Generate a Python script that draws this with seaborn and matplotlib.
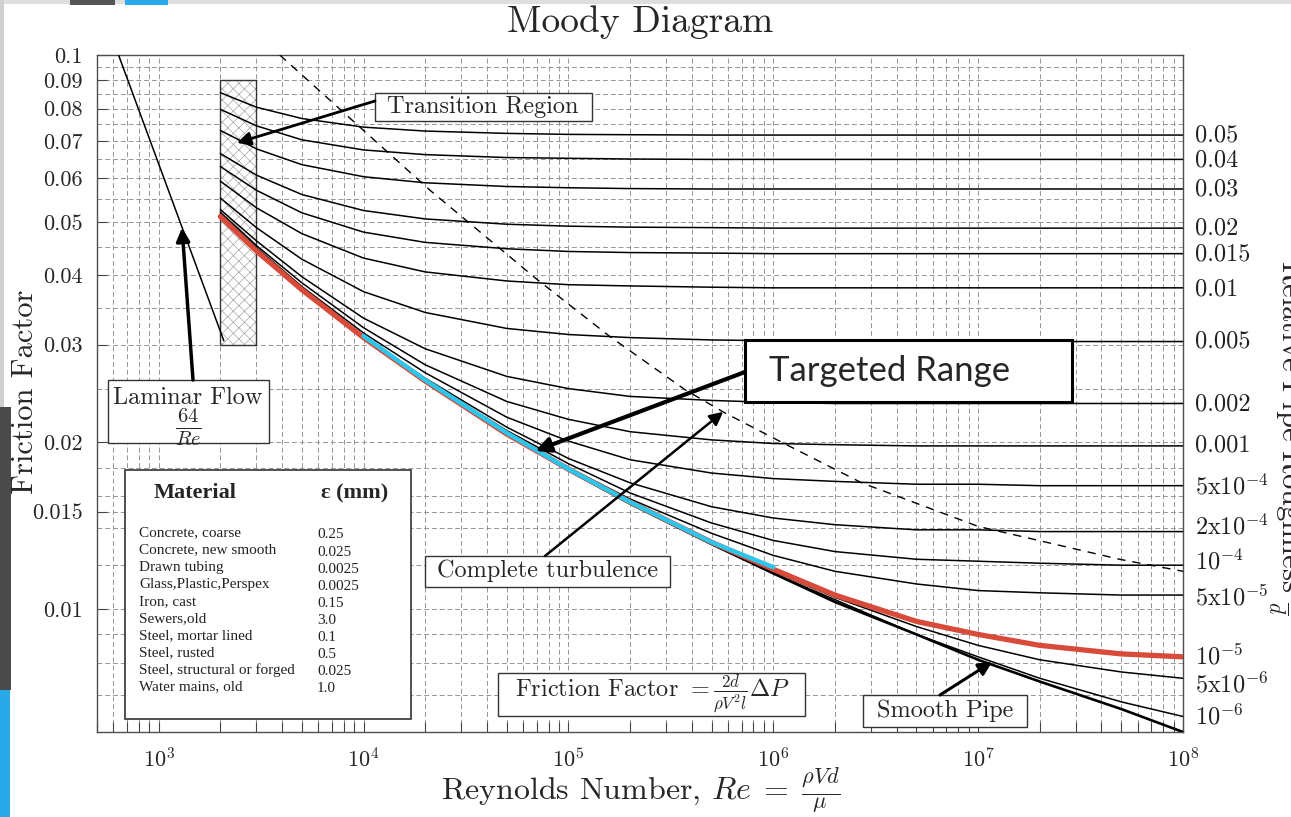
import matplotlib
matplotlib.use("Agg")
import matplotlib.pyplot as plt
import matplotlib.patches as mpatches
import matplotlib.transforms as mtransforms
from matplotlib.ticker import FixedLocator, FixedFormatter, LogLocator, NullFormatter
import seaborn as sns

re_pts = [2e3, 3e3, 5e3, 1e4, 2e4, 5e4, 1e5, 2e5, 5e5, 1e6, 2e6, 5e6, 1e7, 2e7, 5e7, 1e8]

f_050 = [0.0855, 0.0805, 0.0768, 0.0741, 0.0729, 0.0722, 0.0719, 0.0718, 0.0717, 0.0717, 0.0717, 0.0717, 0.0717, 0.0717, 0.0717, 0.0717]
f_040 = [0.0798, 0.0745, 0.0703, 0.0674, 0.0661, 0.0653, 0.0651, 0.0649, 0.0648, 0.0648, 0.0648, 0.0648, 0.0648, 0.0648, 0.0648, 0.0648]
f_030 = [0.0731, 0.0677, 0.0634, 0.0603, 0.0588, 0.0579, 0.0576, 0.0574, 0.0573, 0.0573, 0.0573, 0.0573, 0.0573, 0.0573, 0.0573, 0.0573]
f_020 = [0.0664, 0.0607, 0.0560, 0.0524, 0.0506, 0.0495, 0.0491, 0.0489, 0.0488, 0.0487, 0.0487, 0.0487, 0.0487, 0.0487, 0.0487, 0.0487]
f_015 = [0.0629, 0.0570, 0.0519, 0.0479, 0.0459, 0.0447, 0.0442, 0.0440, 0.0439, 0.0438, 0.0438, 0.0438, 0.0438, 0.0438, 0.0438, 0.0438]
f_010 = [0.0592, 0.0530, 0.0476, 0.0430, 0.0406, 0.0391, 0.0385, 0.0383, 0.0381, 0.0380, 0.0380, 0.0380, 0.0380, 0.0380, 0.0380, 0.0380]
f_005 = [0.0552, 0.0488, 0.0428, 0.0374, 0.0343, 0.0321, 0.0313, 0.0309, 0.0306, 0.0305, 0.0305, 0.0304, 0.0304, 0.0304, 0.0304, 0.0304]
f_002 = [0.0526, 0.0462, 0.0398, 0.0335, 0.0295, 0.0263, 0.0250, 0.0242, 0.0238, 0.0236, 0.0235, 0.0235, 0.0235, 0.0235, 0.0235, 0.0235]
f_001 = [0.0520, 0.0453, 0.0388, 0.0322, 0.0276, 0.0237, 0.0220, 0.0209, 0.0202, 0.0199, 0.0198, 0.0197, 0.0197, 0.0197, 0.0197, 0.0197]
f_5e4 = [0.0516, 0.0449, 0.0382, 0.0315, 0.0267, 0.0222, 0.0201, 0.0186, 0.0176, 0.0172, 0.0170, 0.0168, 0.0168, 0.0167, 0.0167, 0.0167]
f_2e4 = [0.0513, 0.0446, 0.0379, 0.0311, 0.0261, 0.0213, 0.0187, 0.0169, 0.0153, 0.0146, 0.0142, 0.0139, 0.0139, 0.0138, 0.0138, 0.0138]
f_1e4 = [0.0512, 0.0445, 0.0378, 0.0310, 0.0259, 0.0210, 0.0183, 0.0162, 0.0143, 0.0133, 0.0127, 0.0123, 0.0122, 0.0121, 0.0120, 0.0120]
f_5e5 = [0.0511, 0.0444, 0.0378, 0.0309, 0.0258, 0.0208, 0.0180, 0.0158, 0.0137, 0.0125, 0.0117, 0.0111, 0.0108, 0.0107, 0.0106, 0.0106]
f_1e5 = [0.0511, 0.0443, 0.0377, 0.0309, 0.0258, 0.0207, 0.0179, 0.0156, 0.0132, 0.0118, 0.0106, 0.0095, 0.0090, 0.0086, 0.0083, 0.0082]
f_5e6 = [0.0510, 0.0443, 0.0377, 0.0309, 0.0258, 0.0207, 0.0178, 0.0155, 0.0131, 0.0117, 0.0105, 0.0093, 0.0086, 0.0081, 0.0077, 0.0075]
f_1e6 = [0.0509, 0.0443, 0.0377, 0.0309, 0.0257, 0.0207, 0.0178, 0.0155, 0.0131, 0.0116, 0.0104, 0.0090, 0.0082, 0.0075, 0.0068, 0.0064]
f_smooth = [0.0509, 0.0443, 0.0377, 0.0309, 0.0257, 0.0207, 0.0178, 0.0155, 0.0131, 0.0116, 0.0103, 0.0090, 0.0081, 0.0074, 0.0066, 0.0060]

rough_labels = ['0.05', '0.04', '0.03', '0.02', '0.015', '0.01', '0.005', '0.002', '0.001',
                '5x10$^{-4}$', '2x10$^{-4}$', '10$^{-4}$', '5x10$^{-5}$', '10$^{-5}$',
                '5x10$^{-6}$', '10$^{-6}$']
rough_curves = [f_050, f_040, f_030, f_020, f_015, f_010, f_005, f_002, f_001,
                f_5e4, f_2e4, f_1e4, f_5e5, f_1e5, f_5e6, f_1e6]
# altura (en f) a la que está escrita cada etiqueta de la derecha
label_f = [0.0715, 0.0644, 0.0571, 0.0486, 0.0436, 0.0377, 0.0304, 0.0234, 0.0197,
           0.0166, 0.0141, 0.0122, 0.0105, 0.0082, 0.0073, 0.0064]

# Flujo laminar 64/Re
lam_re = [637, 2080]
lam_f = [0.1, 0.0305]

# Zona de transición
trans_re = [2000, 3000]
trans_f = [0.03, 0.09]

# Límite de turbulencia completa (línea discontinua)
turb_re = [3.9e3, 2.1e4, 7.0e4, 1.6e5, 3.7e5, 5.8e5, 1.1e6, 2.7e6, 1.0e7, 4.9e7, 1.0e8]
turb_f = [0.1, 0.0571, 0.0394, 0.0310, 0.0249, 0.0226, 0.0200, 0.0169, 0.0141, 0.0123, 0.0117]

# Rango objetivo (cian)
cyan_re = [1e4, 2e4, 5e4, 1e5, 2e5, 5e5, 1e6]
cyan_f = [0.0311, 0.0259, 0.0208, 0.0179, 0.0156, 0.0132, 0.0119]

# Ejes
ytick_vals = [0.01, 0.015, 0.02, 0.03, 0.04, 0.05, 0.06, 0.07, 0.08, 0.09, 0.1]
ytick_text = ['0.01', '0.015', '0.02', '0.03', '0.04', '0.05', '0.06', '0.07', '0.08', '0.09', '0.1']
ygrid_extra = [0.006, 0.007, 0.008, 0.009, 0.012, 0.014, 0.016, 0.018, 0.025, 0.035,
               0.045, 0.055, 0.065, 0.075, 0.085, 0.095]

# Tabla de materiales
materials = ['Concrete, coarse', 'Concrete, new smooth', 'Drawn tubing', 'Glass,Plastic,Perspex',
             'Iron, cast', 'Sewers,old', 'Steel, mortar lined', 'Steel, rusted',
             'Steel, structural or forged', 'Water mains, old']
eps_mm = ['0.25', '0.025', '0.0025', '0.0025', '0.15', '3.0', '0.1', '0.5', '0.025', '1.0']

sns.set_theme(style='white')
plt.rcParams['font.family'] = ['cmr10', 'DejaVu Serif']
plt.rcParams['mathtext.fontset'] = 'cm'
plt.rcParams['axes.formatter.use_mathtext'] = True
plt.rcParams['axes.unicode_minus'] = False
plt.rcParams['hatch.linewidth'] = 0.5

W, H = 1291, 817
fig = plt.figure(figsize=(W / 100, H / 100), dpi=100)
fig.patch.set_facecolor('white')
ax = fig.add_axes([97 / W, 85 / H, 1086 / W, 677 / H])
ax.set_xscale('log')
ax.set_yscale('log')
ax.set_xlim(500, 1e8)
ax.set_ylim(0.006, 0.1)


def fx(px):
    return (px - 97) / 1086


def fy(py):
    return (732 - py) / 677


# rejilla
grid_kw = dict(color='#959595', linestyle=(0, (5, 3)), linewidth=0.7)
ax.xaxis.set_major_locator(LogLocator(base=10))
ax.xaxis.set_minor_locator(LogLocator(base=10, subs=[2, 3, 4, 5, 6, 7, 8, 9]))
ax.xaxis.set_minor_formatter(NullFormatter())
ax.yaxis.set_major_locator(FixedLocator(ytick_vals))
ax.yaxis.set_major_formatter(FixedFormatter(ytick_text))
ax.yaxis.set_minor_locator(FixedLocator(ygrid_extra))
ax.yaxis.set_minor_formatter(NullFormatter())
ax.grid(True, which='both', **grid_kw)
ax.set_axisbelow(True)
ax.tick_params(axis='x', which='both', direction='in', length=7, width=0.8,
               color='#444444', labelsize=16, pad=11, bottom=True, top=False)
ax.tick_params(axis='y', which='major', direction='in', length=7, width=0.8,
               color='#444444', labelsize=16, pad=10, left=True, right=False)
ax.tick_params(axis='y', which='minor', length=0)
for sp in ax.spines.values():
    sp.set_color('#4d4d4d')
    sp.set_linewidth(1.0)

# zona de transición
ax.add_patch(mpatches.Rectangle((trans_re[0], trans_f[0]), trans_re[1] - trans_re[0],
                                trans_f[1] - trans_f[0], facecolor='white', edgecolor='#a5a5a5',
                                hatch='xxx', linewidth=0, zorder=1.5))
ax.add_patch(mpatches.Rectangle((trans_re[0], trans_f[0]), trans_re[1] - trans_re[0],
                                trans_f[1] - trans_f[0], fill=False, edgecolor='#333333',
                                linewidth=1.0, zorder=2))

# curvas
for fv in rough_curves:
    sns.lineplot(x=re_pts, y=fv, color='black', linewidth=1.1, ax=ax, zorder=3)
sns.lineplot(x=re_pts, y=f_smooth, color='black', linewidth=1.9, ax=ax, zorder=3)
sns.lineplot(x=lam_re, y=lam_f, color='black', linewidth=1.1, ax=ax, zorder=3)
sns.lineplot(x=turb_re, y=turb_f, color='black', linewidth=1.0, linestyle=(0, (6, 5)), ax=ax, zorder=3)
sns.lineplot(x=re_pts, y=f_1e5, color='#d84a3a', linewidth=3.8, ax=ax, zorder=4)
sns.lineplot(x=cyan_re, y=cyan_f, color='#2cc6ea', linewidth=3.2, ax=ax, zorder=4.5)

# etiquetas de rugosidad relativa a la derecha
trans_right = mtransforms.blended_transform_factory(ax.transAxes, ax.transData)
for lab, yv in zip(rough_labels, label_f):
    ax.text(1.011, yv, lab, transform=trans_right, ha='left', va='center',
            fontsize=17.5, color='#222222', clip_on=False)


def box(x0, y0, x1, y1, lw=1.0, ec='#333333', z=5):
    ax.add_patch(mpatches.Rectangle((fx(x0), fy(y1)), fx(x1) - fx(x0), fy(y0) - fy(y1),
                                    transform=ax.transAxes, facecolor='white', edgecolor=ec,
                                    linewidth=lw, zorder=z, clip_on=False))


def arrow(tip, start, lw=2.0, ms=20):
    ax.annotate('', xy=tip, xycoords='data', xytext=(fx(start[0]), fy(start[1])),
                textcoords='axes fraction',
                arrowprops=dict(arrowstyle='-|>', color='black', lw=lw, mutation_scale=ms,
                                shrinkA=0, shrinkB=0), zorder=7)


# Transition Region
box(375, 93, 592, 121)
ax.text(fx(483), fy(107), 'Transition Region', transform=ax.transAxes, ha='center',
        va='center', fontsize=17.5, zorder=6)
arrow((2410, 0.0694), (375, 101), lw=2.0)

# Laminar Flow
box(108, 380, 269, 443)
ax.text(fx(188), fy(398), 'Laminar Flow', transform=ax.transAxes, ha='center',
        va='center', fontsize=17.5, zorder=6)
ax.text(fx(188), fy(427), r'$\frac{64}{Re}$', transform=ax.transAxes, ha='center',
        va='center', fontsize=21, zorder=6)
arrow((1300, 0.0488), (193, 380), lw=2.5)

# Material table
box(125, 470, 411, 719, lw=1.2)
ax.text(fx(195), fy(493), 'Material', transform=ax.transAxes, ha='center', va='center',
        fontsize=16, fontweight='bold', family='Liberation Serif', zorder=6)
ax.text(fx(355), fy(493), 'ε (mm)', transform=ax.transAxes, ha='center', va='center',
        fontsize=16, fontweight='bold', family='Liberation Serif', zorder=6)
for i, (m, e) in enumerate(zip(materials, eps_mm)):
    yy = 533 + i * 17.1
    ax.text(fx(139), fy(yy), m, transform=ax.transAxes, ha='left', va='center',
            fontsize=11, family='Liberation Serif', color='#222222', zorder=6)
    ax.text(fx(317), fy(yy + 2), e, transform=ax.transAxes, ha='left', va='center',
            fontsize=11, family='Liberation Serif', color='#222222', zorder=6)

# Complete turbulence
box(425, 556, 670, 587)
ax.text(fx(548), fy(571), 'Complete turbulence', transform=ax.transAxes, ha='center',
        va='center', fontsize=17.5, zorder=6)
arrow((5.7e5, 0.0227), (545, 556), lw=1.8)

# Friction factor formula
box(498, 673, 805, 716)
ax.text(fx(652), fy(694), r'Friction Factor $= \frac{2d}{\rho V^2 l}\Delta P$',
        transform=ax.transAxes, ha='center', va='center', fontsize=17.5, zorder=6)

# Smooth Pipe
box(863, 695, 1027, 727)
ax.text(fx(945), fy(711), 'Smooth Pipe', transform=ax.transAxes, ha='center',
        va='center', fontsize=17.5, zorder=6)
arrow((1.17e7, 0.00803), (940, 695), lw=2.2)

# Targeted Range
box(745, 340, 1072, 402, lw=2.2, ec='black', z=5.5)
ax.text(fx(890), fy(371), 'Targeted Range', transform=ax.transAxes, ha='center',
        va='center', fontsize=25, family='Lato', zorder=6.5)
arrow((6.9e4, 0.0193), (745, 372), lw=3.0, ms=22)

# títulos
fig.text(640 / W, 1 - 22 / H, 'Moody Diagram', ha='center', va='center', fontsize=27)
fig.text(641 / W, 1 - 791 / H, r'Reynolds Number, $Re\;=\;\frac{\rho V d}{\mu}$',
         ha='center', va='center', fontsize=23)
fig.text(25 / W, 1 - 392 / H, 'Friction Factor', rotation=90, ha='center',
         va='center', fontsize=22)
fig.text(1286 / W, 1 - 437 / H, r'Relative Pipe Roughness $\frac{\epsilon}{d}$',
         rotation=-90, ha='center', va='center', fontsize=22)


# bordes de la captura
def fig_rect(x0, y0, x1, y1, color):
    fig.patches.append(mpatches.Rectangle((x0 / W, 1 - y1 / H), (x1 - x0) / W, (y1 - y0) / H,
                                          transform=fig.transFigure, facecolor=color,
                                          edgecolor='none', zorder=10))


fig_rect(0, 0, W, 4, '#dedede')
fig_rect(70, 0, 115, 5, '#555555')
fig_rect(125, 0, 168, 5, '#2aa9e8')
fig_rect(0, 0, 4, 407, '#cfcfcf')
fig_rect(0, 407, 11, 690, '#4a4a4a')
fig_rect(0, 690, 10, H, '#2aa9e8')

fig.savefig('out.png', dpi=100, facecolor='white')
